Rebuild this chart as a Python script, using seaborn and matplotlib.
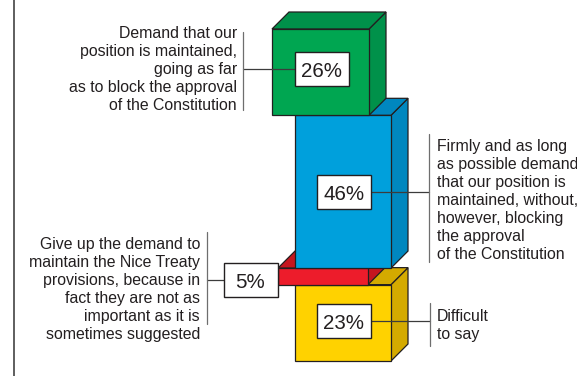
import matplotlib
matplotlib.use("Agg")
import matplotlib.pyplot as plt
from matplotlib.patches import Polygon, Rectangle
import seaborn as sns

# Answers, stacked from the bottom of the column upwards
answers = [
    "Difficult\nto say",
    "Give up the demand to\nmaintain the Nice Treaty\nprovisions, because in\n"
    "fact they are not as\nimportant as it is\nsometimes suggested",
    "Firmly and as long\nas possible demand\nthat our position is\n"
    "maintained, without,\nhowever, blocking\nthe approval\nof the Constitution",
    "Demand that our\nposition is maintained,\ngoing as far\n"
    "as to block the approval\nof the Constitution",
]
shares = [23, 5, 46, 26]

front_colors = ["#FFD200", "#ED1C2B", "#00A0DC", "#00A651"]
shade_colors = ["#D4AA00", "#C5161F", "#0087BF", "#00914A"]

sns.set_theme(style="white")
plt.rcParams["font.family"] = ["Liberation Sans", "DejaVu Sans"]

W, H = 577, 376
fig = plt.figure(figsize=(W / 100, H / 100), dpi=100)
ax = fig.add_axes([0, 0, 1, 1])

PX = 3.32          # pixels per percentage point
BASE = 361         # pixel row of the 0 % level
DEPTH = 17         # 3D depth offset in pixels
ax.set_xlim(0, W)
ax.set_ylim((BASE - H) / PX, BASE / PX)
ax.axis("off")


def row(p):
    """Pixel row (from the top) to data units."""
    return (BASE - p) / PX


EDGE = "#231F20"
LW = 0.9
dz = DEPTH / PX

# block placement: left edge and width of each front face
lefts = [295, 278, 295, 272]
widths = [96, 90, 96, 97]

bottom = 0
mids = []
for share, left, width, fc, sc in zip(shares, lefts, widths, front_colors, shade_colors):
    top = bottom + share
    right = left + width
    ax.add_patch(Polygon([(right, bottom), (right, top), (right + DEPTH, top + dz),
                          (right + DEPTH, bottom + dz)], closed=True,
                         fc=sc, ec=EDGE, lw=LW, joinstyle="miter"))
    ax.add_patch(Polygon([(left, top), (right, top), (right + DEPTH, top + dz),
                          (left + DEPTH, top + dz)], closed=True,
                         fc=sc, ec=EDGE, lw=LW, joinstyle="miter"))
    ax.add_patch(Rectangle((left, bottom), width, share, fc=fc, ec=EDGE, lw=LW))
    mids.append(BASE - (bottom + share / 2) * PX)
    bottom = top

# call-out layout for each block
callouts = [
    dict(box_x=344, dy=-1.5, side="right", bx=430, br=(303, 346), tx=437, base=321),
    dict(box_x=250.5, dy=4.0, side="left", bx=207, br=(232, 324), tx=200, base=249),
    dict(box_x=344, dy=0.5, side="right", bx=429, br=(134, 262), tx=437, base=151),
    dict(box_x=322, dy=-3.0, side="left", bx=243, br=(32, 110), tx=237, base=38),
]

BOX_W, BOX_H = 54, 34
PITCH = 18
TXT = "#231F20"

for share, text, mid, c in zip(shares, answers, mids, callouts):
    cy = mid + c["dy"]
    edge_x = c["box_x"] + BOX_W / 2 if c["side"] == "right" else c["box_x"] - BOX_W / 2
    ax.plot([edge_x, c["bx"]], [row(cy), row(cy)], color="#3C3C3C", lw=0.9, zorder=5)
    ax.plot([c["bx"], c["bx"]], [row(c["br"][0]), row(c["br"][1])],
            color="#6E6E6E", lw=0.9, zorder=5)
    ax.add_patch(Rectangle((c["box_x"] - BOX_W / 2, row(cy + BOX_H / 2)), BOX_W, BOX_H / PX,
                           fc="white", ec=EDGE, lw=1.0, zorder=6))
    ax.text(c["box_x"], row(cy + 8), f"{share}%", ha="center", va="baseline",
            fontsize=14.8, color=TXT, zorder=7)
    ha = "left" if c["side"] == "right" else "right"
    for i, line in enumerate(text.split("\n")):
        ax.text(c["tx"], row(c["base"] + i * PITCH), line, ha=ha, va="baseline",
                fontsize=11.4, color=TXT, zorder=7)

# frame line on the left
ax.plot([14, 14], [row(0), row(H)], color="#333333", lw=1.1)

fig.savefig("out.png", dpi=100)
